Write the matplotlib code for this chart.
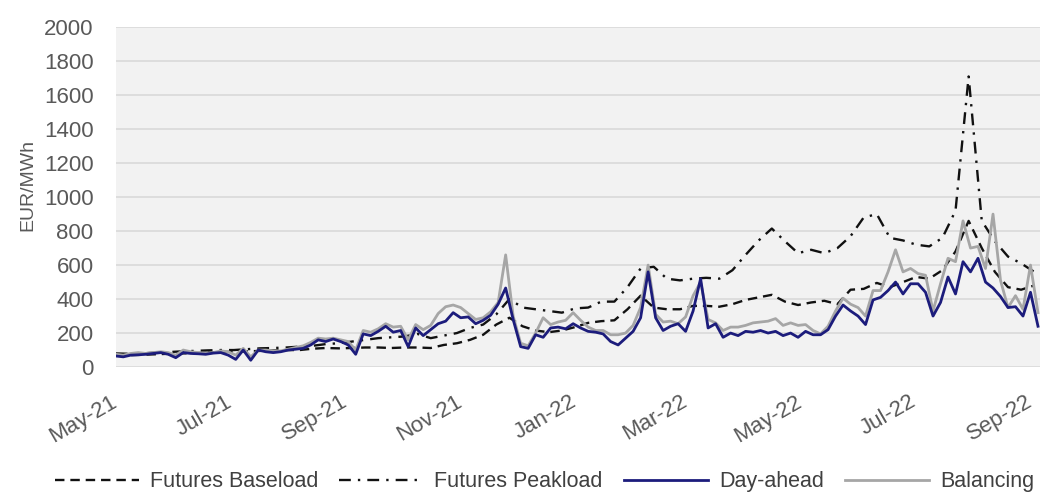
"""
Electricity prices: futures vs. spot (EUR/MWh), May-21 .. Sep-22
"""

import numpy as np
import pandas as pd
import matplotlib
matplotlib.use('Agg')
import matplotlib.pyplot as plt

plt.rcParams['font.family'] = ['Liberation Sans', 'DejaVu Sans']

# ============================================
# Data
# ============================================

# weekly futures quotes, starting 2021-05-01
futures_start = '2021-05-01'
futures_baseload = [
    70, 70, 72, 75, 78, 80, 82, 85, 88, 90,
    92, 95, 98, 100, 100, 108, 112, 110, 112, 115,
    115, 112, 115, 115, 112, 130, 140, 160, 190, 250,
    290, 240, 215, 205, 215, 235, 260, 270, 275, 340,
    420, 350, 340, 340, 360, 360, 355, 370, 395, 410,
    425, 385, 365, 380, 390, 370, 455, 460, 495, 470,
    500, 530, 520, 570, 680, 860, 700, 560, 470, 455,
    480,
]
futures_peakload = [
    80, 78, 80, 85, 88, 92, 95, 98, 100, 100,
    105, 110, 112, 115, 120, 125, 135, 140, 150, 160,
    170, 175, 180, 195, 170, 185, 200, 230, 250, 310,
    400, 350, 340, 330, 320, 345, 350, 385, 385, 470,
    580, 590, 520, 510, 520, 525, 520, 570, 660, 745,
    815, 740, 670, 690, 670, 700, 770, 880, 900, 760,
    745, 720, 710, 760, 920, 1710, 860, 740, 650, 610,
    560,
]

# spot prices every 4 days, starting 2021-05-01
spot_start = '2021-05-01'
day_ahead = [
    65, 60, 70, 72, 75, 80, 85, 75, 55, 85,
    80, 78, 75, 82, 85, 70, 45, 100, 40, 100,
    90, 85, 90, 100, 105, 110, 130, 160, 150, 165,
    150, 130, 75, 195, 185, 210, 240, 205, 215, 120,
    230, 185, 220, 255, 270, 320, 290, 295, 255, 275,
    305, 370, 465, 280, 120, 110, 190, 175, 230, 235,
    225, 255, 230, 210, 205, 195, 150, 130, 170, 210,
    290, 560, 290, 215, 240, 255, 210, 330, 520, 230,
    255, 175, 200, 185, 210, 205, 215, 200, 210, 185,
    200, 175, 210, 190, 190, 220, 300, 365, 330, 300,
    250, 395, 410, 450, 500, 430, 490, 490, 440, 300,
    380, 530, 430, 620, 560, 640, 500, 465, 415, 350,
    355, 300, 440, 240,
]
balancing = [
    75, 70, 80, 85, 80, 85, 90, 85, 70, 100,
    90, 85, 80, 85, 95, 90, 70, 110, 60, 100,
    100, 95, 95, 105, 115, 125, 145, 170, 165, 170,
    160, 150, 100, 215, 205, 225, 255, 235, 240, 160,
    250, 220, 245, 315, 355, 365, 350, 315, 280, 290,
    325, 380, 660, 300, 140, 125, 200, 290, 250, 265,
    275, 320, 275, 235, 215, 215, 190, 190, 200, 245,
    350, 600, 310, 265, 270, 255, 295, 420, 500, 280,
    260, 215, 235, 235, 245, 260, 265, 270, 285, 245,
    260, 245, 250, 215, 195, 240, 330, 405, 370, 350,
    300, 450, 450, 560, 690, 560, 580, 550, 540, 330,
    490, 640, 620, 860, 700, 710, 580, 900, 510, 350,
    420, 340, 600, 320,
]

month_labels = ['May-21', 'Jul-21', 'Sep-21', 'Nov-21', 'Jan-22',
                'Mar-22', 'May-22', 'Jul-22', 'Sep-22']
y_ticks = [0, 200, 400, 600, 800, 1000, 1200, 1400, 1600, 1800, 2000]


def make_chart():
    futures_dates = pd.date_range(futures_start, periods=len(futures_baseload), freq='7D')
    spot_dates = pd.date_range(spot_start, periods=len(day_ahead), freq='4D')

    fig = plt.figure(figsize=(10.43, 4.94), dpi=100)
    ax = fig.add_axes([0.111, 0.257, 0.886, 0.688])
    ax.set_facecolor('#f2f2f2')

    # futures (black dashed / dash-dot)
    l_base, = ax.plot(futures_dates, futures_baseload, color='#111111', lw=1.7,
                      dashes=(4, 2.5), label='Futures Baseload')
    l_peak, = ax.plot(futures_dates, futures_peakload, color='#111111', lw=1.7,
                      dashes=(5, 3, 1, 3), label='Futures Peakload')
    # spot
    l_bal, = ax.plot(spot_dates, balancing, color='#a6a6a6', lw=2.0, label='Balancing')
    l_da, = ax.plot(spot_dates, day_ahead, color='#1c1c7c', lw=2.0, label='Day-ahead')

    # axes
    ax.set_ylim(0, 2000)
    ax.set_yticks(y_ticks)
    ax.set_xlim(pd.Timestamp('2021-05-01'), pd.Timestamp('2022-09-06'))
    tick_dates = [pd.to_datetime(m, format='%b-%y') for m in month_labels]
    ax.set_xticks(tick_dates)
    ax.set_xticklabels(month_labels, rotation=30, ha='right', va='center',
                       rotation_mode='anchor')

    ax.grid(axis='y', color='#d9d9d9', lw=1.2)
    ax.set_axisbelow(True)
    for s in ax.spines.values():
        s.set_visible(False)
    ax.tick_params(axis='y', length=0, pad=16, labelsize=16, labelcolor='#595959')
    ax.tick_params(axis='x', length=0, pad=24, labelsize=16, labelcolor='#595959')
    ax.set_ylabel('EUR/MWh', fontsize=14, color='#595959')
    ax.yaxis.set_label_coords(-0.086, 0.535)

    fig.legend(handles=[l_base, l_peak, l_da, l_bal], loc='center',
               bbox_to_anchor=(0.522, 0.025), ncol=4, frameon=False,
               fontsize=15.5, handlelength=3.9, handletextpad=0.5,
               columnspacing=1.0, labelcolor='#404040')

    fig.savefig('out.png', dpi=100, facecolor='white')
    plt.close(fig)


if __name__ == "__main__":
    make_chart()
